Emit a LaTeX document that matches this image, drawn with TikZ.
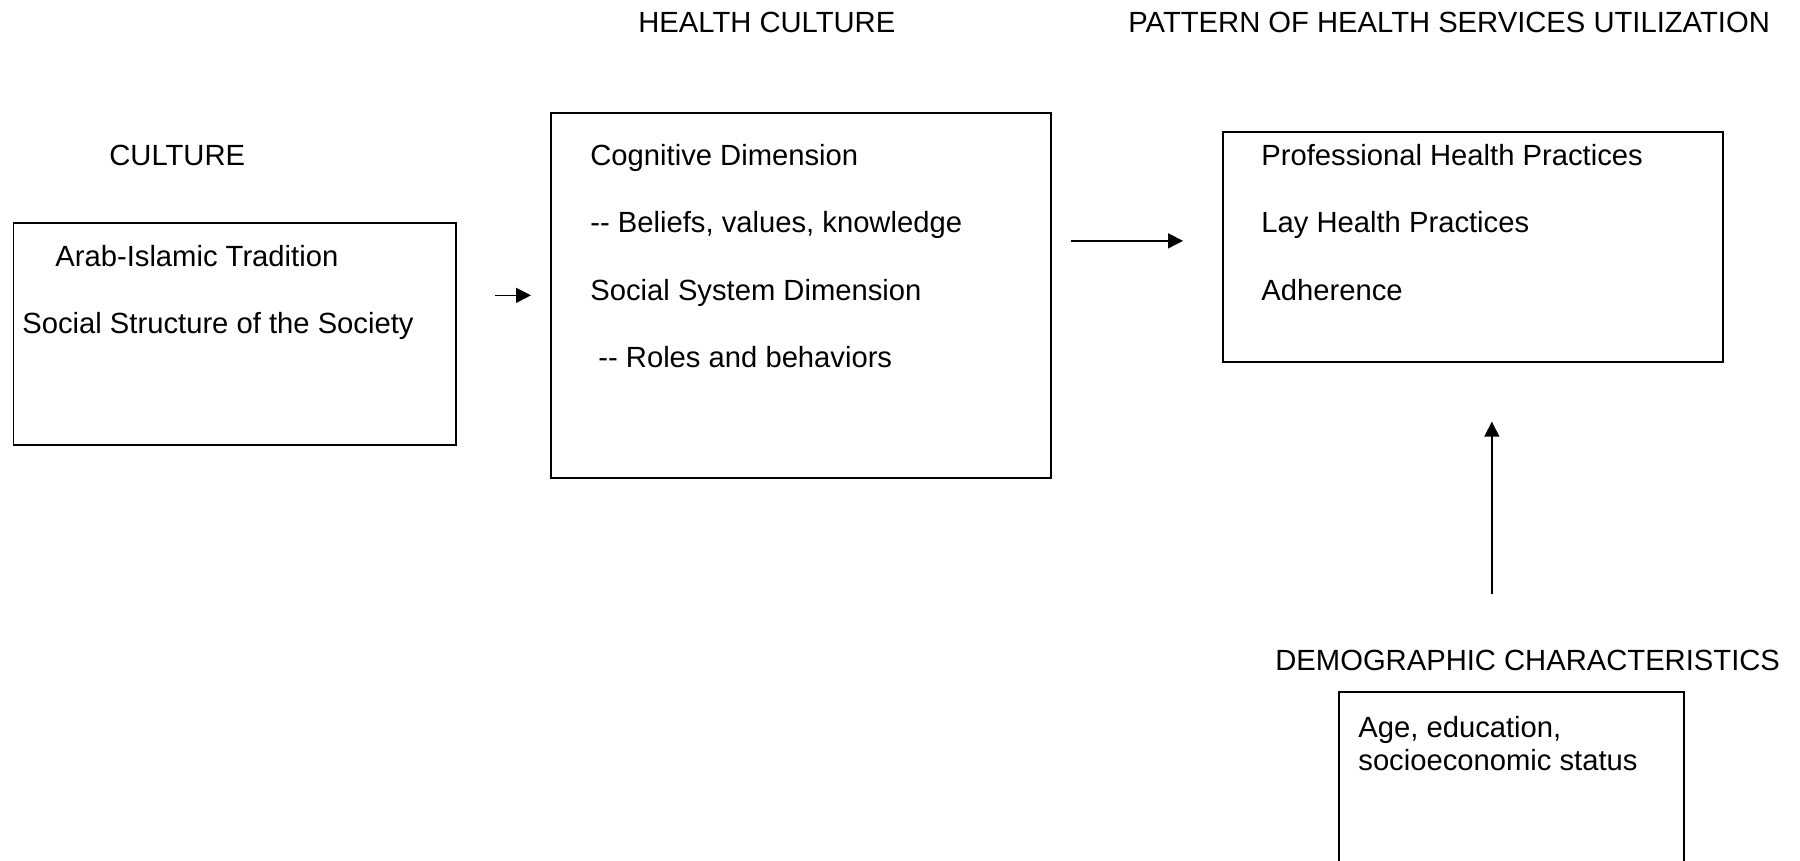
\documentclass[tikz,border=0pt]{standalone}
\usepackage{fontspec}
\setmainfont{Liberation Sans}
\usetikzlibrary{arrows.meta,calc}
\begin{document}
\begin{tikzpicture}[x=0.5pt,y=-0.5pt,
  lbl/.style={anchor=base west, inner sep=0pt, font=\fontsize{14.6}{16.5}\selectfont},
  boxnode/.style={draw=black, line width=0.85pt, anchor=north west, inner sep=0pt},
  arr/.style={-{Triangle[length=7.5pt,width=7.5pt]}, line width=0.8pt}]
\useasboundingbox (0,0) rectangle (1800,861);
% headings
\node[lbl] (hchead) at (638,33) {HEALTH CULTURE};
\node[lbl] (pathead) at (1128,33) {PATTERN OF HEALTH SERVICES UTILIZATION};
\node[lbl] (culhead) at (109,166) {CULTURE};
\node[lbl] (demotitle) at (1275,670) {DEMOGRAPHIC CHARACTERISTICS};
% boxes
\node[boxnode, minimum width=221.2pt, minimum height=111pt] (culturebox) at (12.6,222) {};
\node[boxnode, minimum width=250pt, minimum height=182.5pt] (hcbox) at (550,112) {};
\node[boxnode, minimum width=250pt, minimum height=115pt] (patbox) at (1222,131) {};
\begin{scope}
\clip (0,0) rectangle (1800,861);
\node[boxnode, minimum width=172.5pt, minimum height=120pt] (demobox) at (1338,691) {};
\end{scope}
% box texts
\node[lbl] (c1) at (55,267) {Arab-Islamic Tradition};
\node[lbl] (c2) at (22,334) {Social Structure of the Society};
\node[lbl] (h1) at (590,166) {Cognitive Dimension};
\node[lbl] (h2) at (590,233) {\mbox{-}\mbox{-} Beliefs, values, knowledge};
\node[lbl] (h3) at (590,300) {Social System Dimension};
\node[lbl] (h4) at (598,367) {\mbox{-}\mbox{-} Roles and behaviors};
\node[lbl] (p1) at (1261,166) {Professional Health Practices};
\node[lbl] (p2) at (1261,233) {Lay Health Practices};
\node[lbl] (p3) at (1261,300) {Adherence};
\node[lbl] (d1) at (1358,737) {Age, education,};
\node[lbl] (d2) at (1358,770) {socioeconomic status};
% connectors
\draw[arr, shorten <=19pt, shorten >=9.5pt] (culturebox.east |- hcbox.west) -- (hcbox.west);
\draw[arr, shorten <=9.5pt, shorten >=19.5pt] ($(hcbox.east |- patbox.west)+(0,-6)$) -- ($(patbox.west)+(0,-6)$);
\draw[arr] ($(patbox.south)+(19,231)$) -- ($(patbox.south)+(19,59)$);
\end{tikzpicture}
\end{document}
